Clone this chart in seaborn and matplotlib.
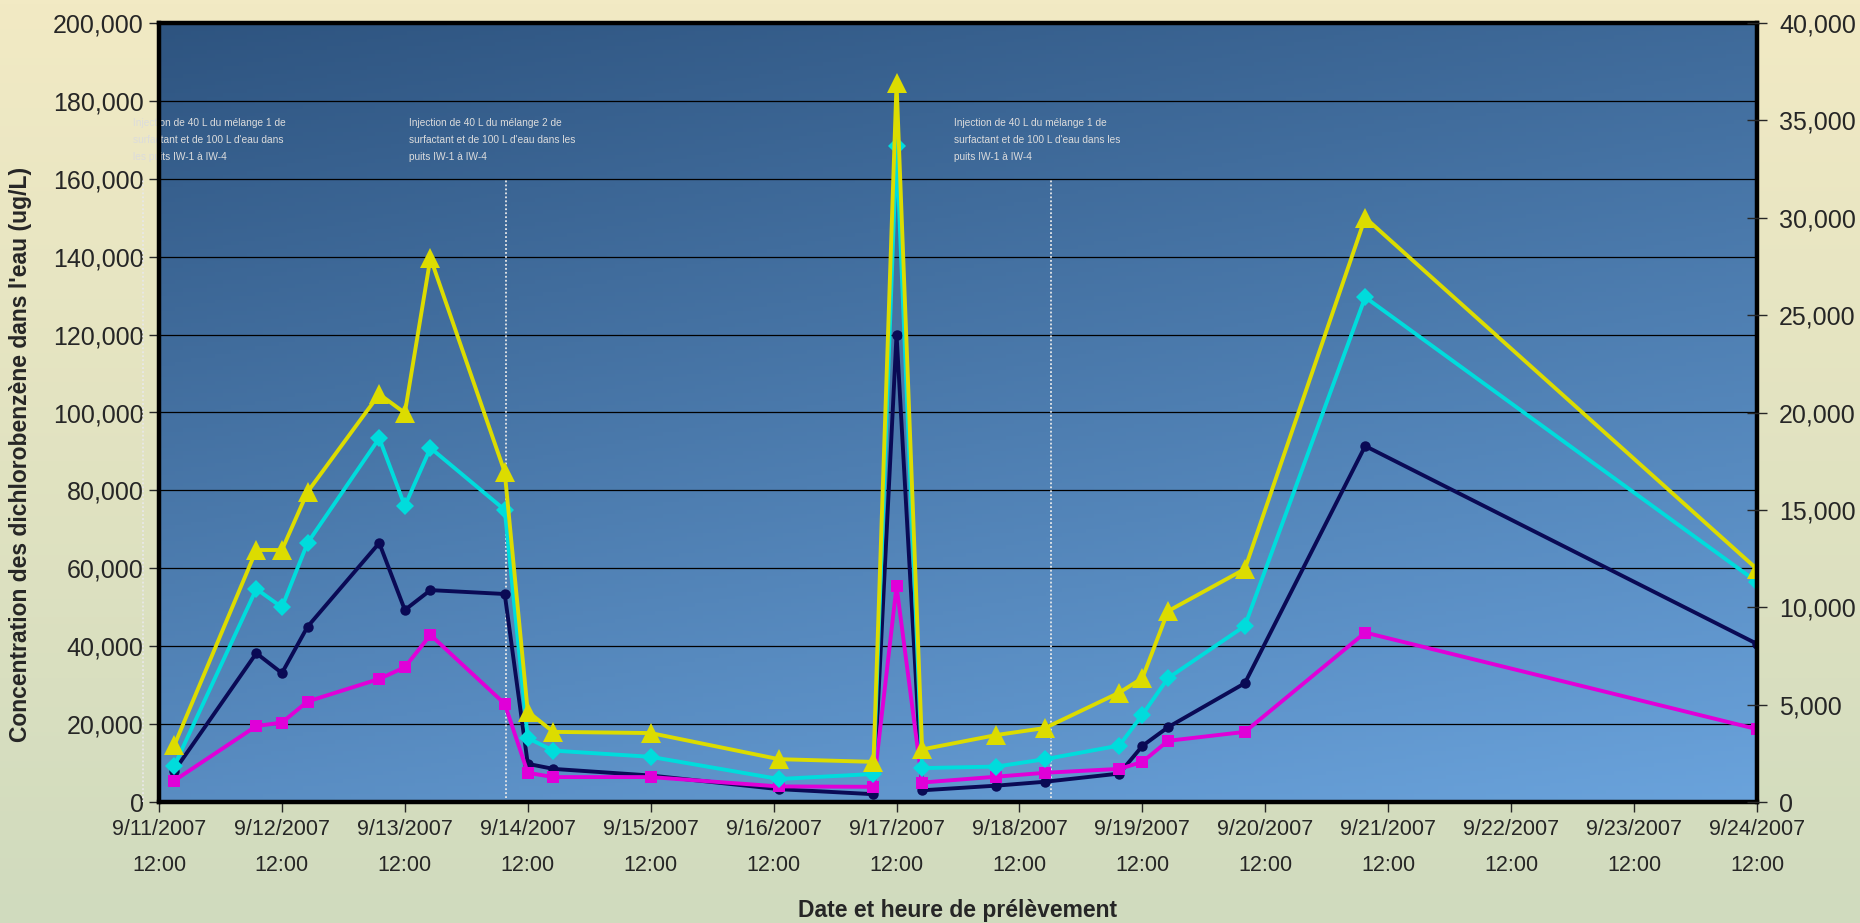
import numpy as np
import pandas as pd
import matplotlib
matplotlib.use("Agg")
import matplotlib.pyplot as plt
import matplotlib.dates as mdates
from matplotlib.ticker import FuncFormatter, MultipleLocator
import seaborn as sns

# ---------------- data ----------------
sample_times = ["2007-09-11 15:00", "2007-09-12 07:00", "2007-09-12 12:00", "2007-09-12 17:00",
                "2007-09-13 07:00", "2007-09-13 12:00", "2007-09-13 17:00", "2007-09-14 07:30",
                "2007-09-14 12:00", "2007-09-14 17:00", "2007-09-15 12:00", "2007-09-16 13:00",
                "2007-09-17 07:30", "2007-09-17 12:00", "2007-09-17 17:00", "2007-09-18 07:30",
                "2007-09-18 17:00", "2007-09-19 07:30", "2007-09-19 12:00", "2007-09-19 17:00",
                "2007-09-20 08:00", "2007-09-21 07:30", "2007-09-24 12:00"]

navy_values = [8000, 38200, 33100, 45000, 66500, 49300, 54400, 53400, 9800, 8500, 6800, 3300,
               2000, 120000, 3000, 4200, 5200, 7300, 14400, 19200, 30500, 91400, 40600]
magenta_values = [5500, 19500, 20400, 25800, 31600, 34600, 42900, 25200, 7500, 6400, 6400, 4000,
                  3900, 55400, 5000, 6500, 7500, 8500, 10300, 15700, 18000, 43500, 18700]
cyan_values = [9300, 54700, 50000, 66500, 93400, 76000, 90900, 75000, 16400, 13200, 11600, 5900,
               7200, 168400, 8700, 9100, 11000, 14500, 22400, 31800, 45200, 129600, 56500]
yellow_values = [14600, 64700, 64700, 79600, 104700, 99900, 139700, 84700, 23200, 18000, 17700, 11000,
                 10300, 184500, 13500, 17200, 19000, 28100, 31800, 49000, 59800, 150000, 59800]

tick_dates = ["2007-09-11 12:00", "2007-09-12 12:00", "2007-09-13 12:00", "2007-09-14 12:00",
              "2007-09-15 12:00", "2007-09-16 12:00", "2007-09-17 12:00", "2007-09-18 12:00",
              "2007-09-19 12:00", "2007-09-20 12:00", "2007-09-21 12:00", "2007-09-22 12:00",
              "2007-09-23 12:00", "2007-09-24 12:00"]
tick_labels = ["9/11/2007\n12:00", "9/12/2007\n12:00", "9/13/2007\n12:00", "9/14/2007\n12:00",
               "9/15/2007\n12:00", "9/16/2007\n12:00", "9/17/2007\n12:00", "9/18/2007\n12:00",
               "9/19/2007\n12:00", "9/20/2007\n12:00", "9/21/2007\n12:00", "9/22/2007\n12:00",
               "9/23/2007\n12:00", "9/24/2007\n12:00"]

injection_times = ["2007-09-11 08:50", "2007-09-14 07:40", "2007-09-18 18:15"]
injection_texts = [
    "Injection de 40 L du mélange 1 de\nsurfactant et de 100 L d'eau dans\nles puits IW-1 à IW-4",
    "Injection de 40 L du mélange 2 de\nsurfactant et de 100 L d'eau dans les\npuits IW-1 à IW-4",
    "Injection de 40 L du mélange 1 de\nsurfactant et de 100 L d'eau dans les\npuits IW-1 à IW-4",
]

y_label = "Concentration des dichlorobenzène dans l'eau (ug/L)"
x_label = "Date et heure de prélèvement"

# ---------------- style ----------------
sns.set_style("white")
plt.rcParams['font.family'] = ['Liberation Sans', 'DejaVu Sans']

W, H = 1860, 923
fig = plt.figure(figsize=(W / 100, H / 100), dpi=100)

# figure background gradient
bg = fig.add_axes([0, 0, 1, 1], zorder=-10)
grad = np.linspace(0, 1, 256)[:, None]
top = np.array([242, 234, 196]) / 255
bot = np.array([208, 219, 190]) / 255
img = top[None, None, :] * (1 - grad[:, :, None]) + bot[None, None, :] * grad[:, :, None]
bg.imshow(img, aspect='auto', extent=[0, 1, 0, 1])
bg.set_axis_off()

L, R, B, T = 159, 1757, 802, 23
ax = fig.add_axes([L / W, 1 - B / H, (R - L) / W, (B - T) / H])
ax.set_facecolor('none')

# plot area gradient (dark top-left -> light bottom-right)
ny, nx = 200, 200
yy, xx = np.mgrid[0:1:complex(ny), 0:1:complex(nx)]
t = np.clip(0.72 * yy + 0.28 * xx, 0, 1)
c1 = np.array([46, 84, 128]) / 255
c2 = np.array([106, 163, 220]) / 255
pimg = c1[None, None, :] * (1 - t[:, :, None]) + c2[None, None, :] * t[:, :, None]
ax.imshow(pimg, aspect='auto', extent=[0, 1, 0, 1], origin='upper',
          transform=ax.transAxes, zorder=0)

times = pd.to_datetime(sample_times)
df = pd.DataFrame({"time": times, "navy": navy_values, "magenta": magenta_values,
                   "cyan": cyan_values, "yellow": yellow_values})

x0 = pd.Timestamp(tick_dates[0])
x1 = pd.Timestamp(tick_dates[-1])
ax.set_xlim(x0, x1)
ax.set_ylim(0, 200000)

# horizontal grid
ax.yaxis.set_major_locator(MultipleLocator(20000))
ax.grid(axis='y', color='black', linewidth=0.9, zorder=1)
ax.grid(axis='x', visible=False)

series = [
    ("navy", "#0a0a55", "o", 7.5),
    ("magenta", "#e000d8", "s", 9),
    ("cyan", "#00dcdc", "D", 9.5),
    ("yellow", "#dcdc00", "^", 15),
]
for i, (col, color, mk, ms) in enumerate(series):
    sns.lineplot(data=df, x="time", y=col, ax=ax, color=color, linewidth=2.8,
                 marker=mk, markersize=ms, markeredgecolor=color, markeredgewidth=0,
                 estimator=None, sort=False, zorder=3 + i, legend=False)

# injection lines and annotations
for tm in injection_times:
    xt = pd.Timestamp(tm)
    ax.vlines(xt, 0, 160000, colors='#e8e8e8', linestyles=(0, (1, 1.2)), linewidth=1.3,
              zorder=2, clip_on=False)
text_x = ["2007-09-11 07:00", "2007-09-13 12:50", "2007-09-17 23:10"]
for tx, txt in zip(text_x, injection_texts):
    ax.text(pd.Timestamp(tx), 175500, txt, fontsize=7.3, color='#dcdcdc', ha='left', va='top',
            linespacing=1.85, zorder=9, clip_on=False)

# axes decorations
for s in ax.spines.values():
    s.set_linewidth(3.2)
    s.set_color('black')
    s.set_zorder(10)

ax.set_xticks(pd.to_datetime(tick_dates))
ax.set_xticklabels(tick_labels, fontsize=15.5, linespacing=1.95)
ax.yaxis.set_major_formatter(FuncFormatter(lambda v, p: f"{v:,.0f}"))
ax.tick_params(axis='y', labelsize=18, direction='out', length=7, width=1, pad=4, left=True)
ax.tick_params(axis='x', direction='out', length=7, width=1, pad=5, bottom=True)
ax.set_xlabel("")
ax.set_ylabel("")

ax2 = ax.twinx()
ax2.set_ylim(0, 40000)
ax2.yaxis.set_major_locator(MultipleLocator(5000))
ax2.yaxis.set_major_formatter(FuncFormatter(lambda v, p: f"{v:,.0f}"))
ax2.tick_params(axis='y', labelsize=18, direction='inout', length=14, width=1, pad=9, right=True)
ax2.grid(False)
for s in ax2.spines.values():
    s.set_visible(False)

fig.text(21 / W, 1 - 454 / H, y_label, rotation=90, ha='center', va='center',
         fontsize=16.5, fontweight='bold')
fig.text(958 / W, 1 - 910 / H, x_label, ha='center', va='center',
         fontsize=16.5, fontweight='bold')

fig.savefig("out.png", dpi=100)
